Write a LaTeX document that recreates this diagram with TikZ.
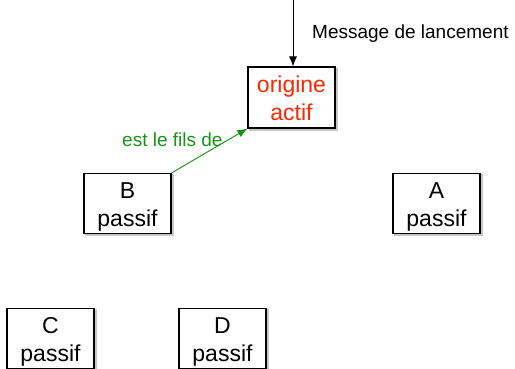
\documentclass[tikz,border=0pt]{standalone}
\usepackage{fontspec}
\setmainfont{Liberation Sans}
\usetikzlibrary{arrows.meta}
\definecolor{actred}{RGB}{255,38,0}
\definecolor{sonvert}{RGB}{20,150,20}
\tikzset{
  procbox/.style={draw=black, line width=1.1pt, fill=white, inner sep=0pt,
    minimum width=87pt, minimum height=60pt, align=center,
    font=\fontsize{23}{27.5}\selectfont, text height=45pt, text depth=0pt,
    preaction={draw=black!22, fill=black!22, line width=2.2pt, transform canvas={xshift=1.6pt,yshift=-1.6pt}}},
  lbl/.style={font=\fontsize{19}{22}\selectfont, inner sep=0pt},
  msgarrow/.style={line width=0.9pt, -{Latex[length=10pt,width=8pt]}},
}
\begin{document}
\begin{tikzpicture}[x=1pt,y=-1pt]
\useasboundingbox (0,0) rectangle (515,368);
\node[procbox, minimum height=61pt, text=actred] (orig) at (291.5,97.5) {origine\\actif};
\node[procbox] (B) at (127.5,203.5) {B\\passif};
\node[procbox] (A) at (436.5,203.5) {A\\passif};
\node[procbox] (C) at (50.5,338.5) {C\\passif};
\node[procbox] (D) at (222.5,338.5) {D\\passif};
\coordinate (top) at (293,-1);
\draw[msgarrow] (top) -- (top |- orig.north);
\node[lbl, anchor=base west] (msg) at (312,38) {Message de lancement};
\draw[msgarrow, draw=sonvert, fill=sonvert] (B.north east) -- (orig.south west);
\node[lbl, anchor=base west, text=sonvert] (fils) at (122,146) {est le fils de};
\end{tikzpicture}
\end{document}
